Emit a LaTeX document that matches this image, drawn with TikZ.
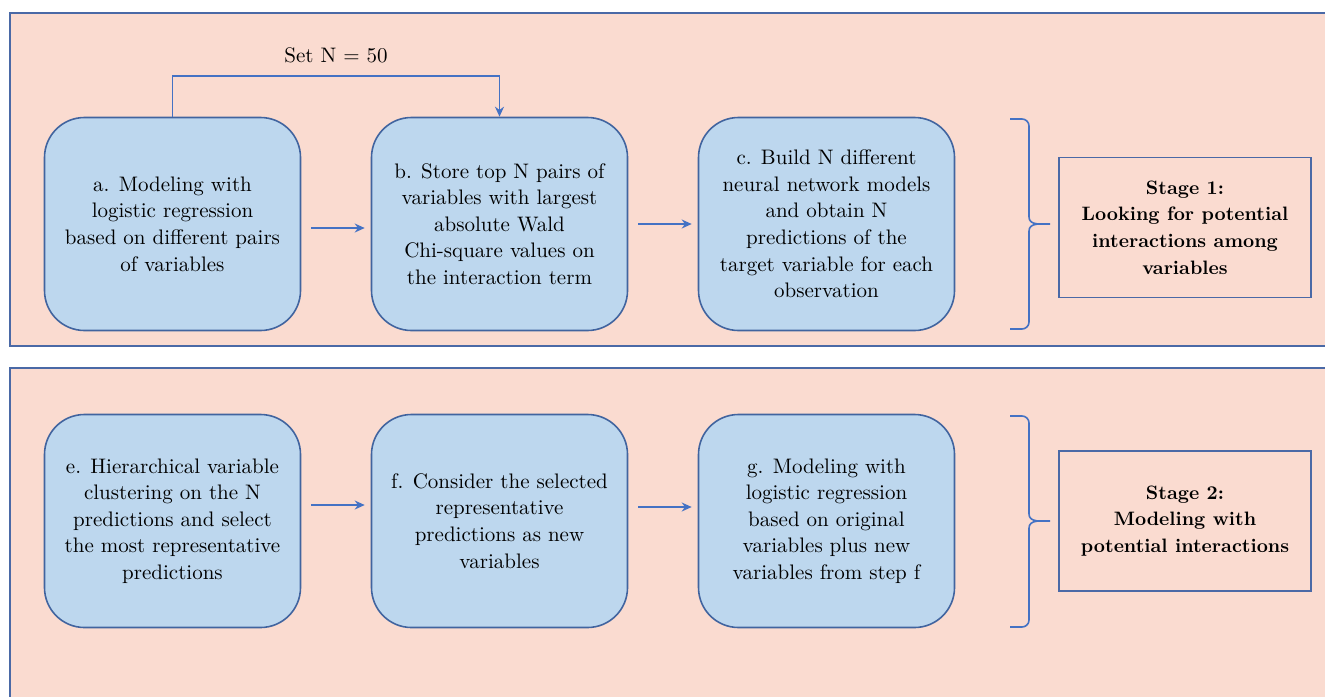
\documentclass[tikz,border=0pt]{standalone}
\usetikzlibrary{arrows.meta,positioning}
\definecolor{panelfill}{HTML}{FADBD0}
\definecolor{panelline}{HTML}{4A69A6}
\definecolor{boxfill}{HTML}{BDD7EE}
\definecolor{boxline}{HTML}{41649F}
\definecolor{arrowblue}{HTML}{4472C4}
\tikzset
{
    panel/.style    = {fill=panelfill, draw=panelline, line width=1pt},
    stepbox/.style  = {rectangle, rounded corners=20pt, draw=boxline, fill=boxfill, line width=0.8pt, minimum width=128pt, minimum height=106.5pt, align=center},
    stagebox/.style = {rectangle, draw=panelline, line width=0.8pt, minimum width=126pt, minimum height=70pt, align=center, font=\fontsize{9.7}{13.3}\selectfont\bfseries},
    arrow/.style    = {draw=arrowblue, line width=0.8pt, -{Stealth[length=5pt,width=4.5pt]}},
    gap/.style      = {shorten <=5pt, shorten >=3pt},
    stagebrace/.style = {draw=arrowblue, line width=0.8pt}
}

\begin{document}
\begin{tikzpicture}[x=1pt, y=1pt, node distance=163.5pt, font=\fontsize{10.5}{13.3}\selectfont]
	\useasboundingbox (0,0) rectangle (662.5,-348);
	\draw [panel] (5,-6.5) rectangle (670,-173);
	\draw [panel] (5,-184) rectangle (670,-360);

	\node (a) [stepbox] at (86.25,-112) {a. Modeling with\\logistic regression\\based on different pairs\\of variables};
	\node (b) [stepbox, right of=a] {b. Store top N pairs of\\variables with largest\\absolute Wald\\Chi-square values on\\the interaction term};
	\node (c) [stepbox, right of=b] {c. Build N different\\neural network models\\and obtain N\\predictions of the\\target variable for each\\observation};
	\node (stage1) [stagebox, right of=c, xshift=15.75pt, yshift=-1.75pt] {Stage 1:\\Looking for potential\\interactions among\\variables};

	\node (e) [stepbox, below of=a, yshift=15pt] {e. Hierarchical variable\\clustering on the N\\predictions and select\\the most representative\\predictions};
	\node (f) [stepbox, right of=e] {f. Consider the selected\\representative\\predictions as new\\variables};
	\node (g) [stepbox, right of=f] {g. Modeling with\\logistic regression\\based on original\\variables plus new\\variables from step f};
	\node (stage2) [stagebox, right of=g, xshift=15.75pt] {Stage 2:\\Modeling with\\potential interactions};

	\draw [arrow] (a.north) -- ++(0,20.5) -| node[pos=0.25, above, yshift=2.5pt] {Set N = 50} (b.north);
	\draw [arrow, gap] ([yshift=-2pt]a.east) -- ([yshift=-2pt]b.west);
	\draw [arrow, gap] (b.east) -- (c.west);
	\draw [arrow, gap] ([yshift=8pt]e.east) -- ([yshift=8pt]f.west);
	\draw [arrow, gap] ([yshift=7pt]f.east) -- ([yshift=7pt]g.west);

	% braces
	\draw [stagebrace] (505,-59.5) -- (511,-59.5) to[out=0,in=90] (514.5,-63) -- (514.5,-108.5) to[out=-90,in=180] (525,-112)
		to[out=180,in=90] (514.5,-115.5) -- (514.5,-161) to[out=-90,in=0] (511,-164.5) -- (505,-164.5);
	\draw [stagebrace] (505,-208) -- (511,-208) to[out=0,in=90] (514.5,-211.5) -- (514.5,-257) to[out=-90,in=180] (525,-260.5)
		to[out=180,in=90] (514.5,-264) -- (514.5,-310) to[out=-90,in=0] (511,-313.5) -- (505,-313.5);
\end{tikzpicture}
\end{document}
